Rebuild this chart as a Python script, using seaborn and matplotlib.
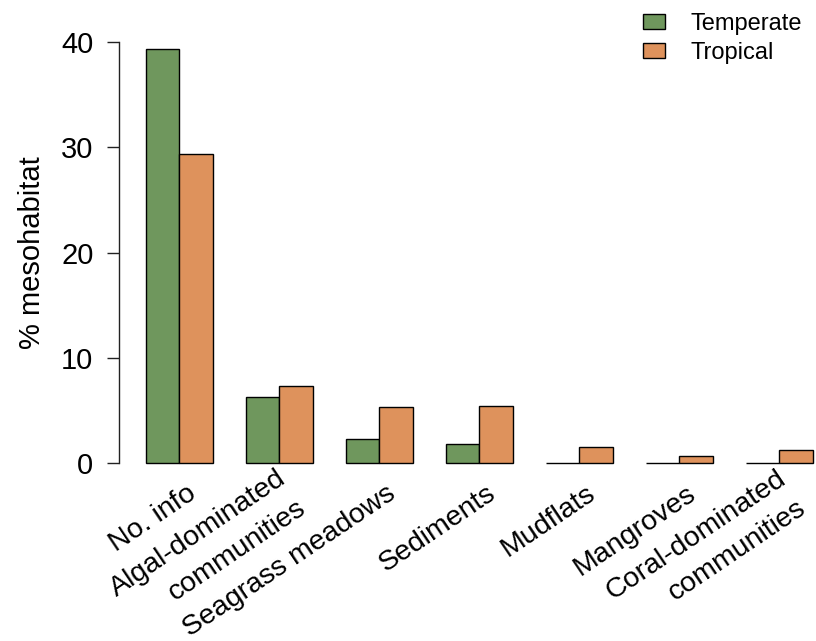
import matplotlib
matplotlib.use("Agg")
import matplotlib.pyplot as plt
import matplotlib.transforms as mtransforms
from matplotlib.patches import Patch
import pandas as pd
import seaborn as sns

# Share of records per mesohabitat, by climate zone
habitats = ["No. info", "Algal-dominated\ncommunities", "Seagrass meadows",
            "Sediments", "Mudflats", "Mangroves", "Coral-dominated\ncommunities"]
temperate = [39.3, 6.25, 2.3, 1.8, 0.0, 0.0, 0.0]
tropical = [29.4, 7.35, 5.3, 5.4, 1.55, 0.7, 1.25]
zones = ["Temperate", "Tropical"]
colors = ["#6F975D", "#DE925C"]
y_ticks = [0, 10, 20, 30, 40]

df = pd.DataFrame({
    "habitat": habitats * 2,
    "zone": [zones[0]] * len(habitats) + [zones[1]] * len(habitats),
    "pct": temperate + tropical,
})

sns.set_style("white")
plt.rcParams["font.family"] = ["Liberation Sans", "DejaVu Sans"]
plt.rcParams["text.color"] = "black"
plt.rcParams["axes.labelcolor"] = "black"
plt.rcParams["xtick.color"] = "black"
plt.rcParams["ytick.color"] = "black"

fig = plt.figure(figsize=(8.16, 6.41), dpi=100)
ax = fig.add_axes([0.1462, 0.2512, 0.8824, 0.7095])

sns.barplot(data=df, x="habitat", y="pct", hue="zone", order=habitats,
            hue_order=zones, palette=colors, saturation=1, width=2 / 3,
            gap=0, edgecolor="black", linewidth=1, errorbar=None,
            legend=False, ax=ax)

ax.set_xlim(-0.6, 6.6)
ax.set_ylim(-1.6, 41.6)

for s in ["top", "right", "bottom"]:
    ax.spines[s].set_visible(False)
ax.spines["left"].set_bounds(0, 40)
ax.spines["left"].set_color("#222222")
ax.spines["left"].set_linewidth(1)

ax.set_yticks(y_ticks)
ax.set_yticklabels([str(t) for t in y_ticks])
ax.tick_params(axis="y", direction="out", length=8.6, width=1,
               color="#222222", pad=10, labelsize=21, left=True)

# rotated category labels, right-aligned under each bar pair
ax.set_xticks(range(len(habitats)))
ax.set_xticklabels(habitats, rotation=34, ha="right", va="center",
                   rotation_mode="anchor", multialignment="right",
                   fontsize=20.5, linespacing=1.5)
ax.tick_params(axis="x", length=0, pad=8)
shift = mtransforms.ScaledTranslation(14 / 100, 0, fig.dpi_scale_trans)
for lbl in ax.get_xticklabels():
    lbl.set_transform(lbl.get_transform() + shift)

ax.set_xlabel("")
ax.set_ylabel("% mesohabitat", fontsize=21, labelpad=11)

handles = [Patch(facecolor=c, edgecolor="black", linewidth=1) for c in colors]
ax.legend(handles, zones, loc="upper left",
          bbox_to_anchor=(643 / 816, 628 / 641),
          bbox_transform=fig.transFigure, frameon=False, fontsize=17,
          borderpad=0, borderaxespad=0, handlelength=0.93, handleheight=0.6,
          handletextpad=1.1, labelspacing=0.3)

fig.savefig("out.png", dpi=100)
